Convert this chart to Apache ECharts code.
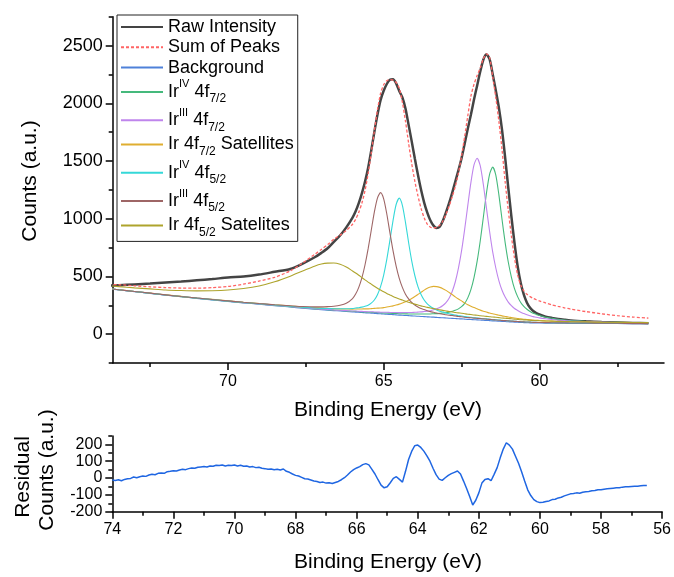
<!DOCTYPE html>
<html>
<head>
<meta charset="utf-8">
<title>Ir 4f XPS fit</title>
<script src="https://cdn.jsdelivr.net/npm/echarts@6/dist/echarts.min.js"></script>
<style>
  html, body { margin: 0; padding: 0; background: #ffffff; }
  #chart { width: 674px; height: 577px; }
</style>
</head>
<body>
<div id="chart"></div>
<script>
// ---- Ir 4f region: binding energy grid (eV) shared by the fit curves ----
const energy = [74.0, 73.5, 73.0, 72.5, 72.0, 71.5, 71.0, 70.5, 70.0, 69.5, 69.0, 68.5, 68.0, 67.6,
  67.2, 67.0, 66.8, 66.6, 66.4, 66.2,
  66.0, 65.9, 65.8, 65.7, 65.6, 65.5, 65.4, 65.3, 65.2, 65.1,
  65.0, 64.9, 64.8, 64.7, 64.6, 64.5, 64.4, 64.3, 64.2, 64.1,
  64.0, 63.9, 63.8, 63.7, 63.6, 63.5, 63.4, 63.3, 63.2, 63.1,
  63.0, 62.9, 62.8, 62.7, 62.6, 62.5, 62.4, 62.3, 62.2, 62.1,
  62.0, 61.9, 61.8, 61.7, 61.6, 61.5, 61.4, 61.3, 61.2, 61.1,
  61.0, 60.9, 60.8, 60.7, 60.6, 60.5, 60.4, 60.3, 60.2, 60.1, 60.0,
  59.8, 59.6, 59.4, 59.2, 59.0, 58.5, 58.0, 57.5, 57.0, 56.5];

const rawIntensity = [417, 424, 431, 438, 447, 455, 466, 477, 491, 499, 516, 540, 564, 611,
  668, 704, 744, 800, 855, 925,
  1010, 1065, 1135, 1220, 1320, 1440, 1590, 1750, 1900, 2027,
  2108, 2167, 2203, 2208, 2172, 2106, 2050, 1955, 1813, 1670,
  1521, 1380, 1250, 1140, 1052, 984, 940, 919, 930, 982,
  1054, 1134, 1224, 1322, 1419, 1524, 1650, 1780, 1900, 2033,
  2152, 2275, 2377, 2424, 2382, 2252, 2110, 1960, 1770, 1530,
  1270, 1020, 790, 590, 443, 342, 272, 228, 200, 183, 170,
  152, 141, 132, 125, 119, 111, 105, 101, 97, 95];

const sumOfPeaks = [429, 428, 419, 410, 403, 399, 398, 403, 413, 433, 460, 492, 548, 617,
  694, 734, 776, 822, 858, 898,
  952, 995, 1055, 1135, 1242, 1388, 1566, 1760, 1942, 2085,
  2160, 2195, 2205, 2200, 2180, 2130, 2010, 1845, 1655, 1478,
  1325, 1198, 1090, 1008, 952, 926, 920, 925, 944, 980,
  1038, 1108, 1190, 1280, 1395, 1542, 1712, 1890, 2060, 2165,
  2240, 2305, 2385, 2428, 2398, 2230, 2048, 1840, 1598, 1320,
  1074, 850, 660, 515, 425, 375, 345, 325, 310, 298, 288,
  270, 254, 240, 228, 217, 195, 176, 160, 148, 139];

const background = [398, 383, 368, 353, 338, 324, 310, 297, 284, 271, 259, 247, 235, 225,
  216, 212, 208, 204, 200, 196,
  192, 191, 189, 187, 185, 183, 182, 180, 178, 176,
  174, 173, 171, 169, 167, 165, 164, 162, 160, 158,
  157, 155, 153, 152, 150, 148, 147, 145, 143, 142,
  140, 138, 137, 135, 133, 132, 130, 128, 127, 125,
  124, 122, 120, 119, 117, 115, 114, 112, 110, 109,
  107, 106, 104, 103, 101, 100, 99, 98, 97, 97, 96,
  95, 95, 94, 94, 93, 93, 92, 92, 91, 91];

const irIV_7_2 = [399, 384, 369, 354, 339, 325, 311, 298, 286, 273, 261, 249, 238, 228,
  219, 216, 212, 208, 205, 201,
  198, 197, 195, 193, 192, 190, 189, 188, 186, 185,
  183, 183, 181, 180, 179, 177, 177, 176, 175, 174,
  174, 174, 174, 174, 175, 175, 177, 178, 180, 183,
  186, 191, 198, 206, 219, 238, 267, 314, 385, 490,
  630, 807, 1013, 1222, 1385, 1447, 1378, 1204, 993, 793,
  625, 495, 394, 325, 274, 240, 216, 196, 181, 171, 161,
  146, 137, 128, 123, 117, 110, 105, 102, 99, 97];

const irIII_7_2 = [399, 384, 369, 354, 339, 326, 312, 299, 286, 273, 262, 250, 239, 229,
  221, 217, 214, 210, 207, 204,
  200, 200, 198, 197, 195, 194, 194, 192, 191, 190,
  189, 189, 188, 187, 187, 186, 187, 187, 187, 187,
  189, 191, 193, 196, 199, 203, 211, 219, 230, 248,
  273, 311, 370, 454, 572, 721, 908, 1113, 1313, 1466,
  1524, 1459, 1296, 1092, 891, 712, 573, 462, 380, 321,
  278, 247, 222, 205, 189, 178, 168, 160, 152, 147, 141,
  133, 127, 121, 118, 114, 108, 104, 101, 99, 97];

const ir_7_2_sat = [400, 385, 370, 355, 341, 327, 313, 301, 288, 276, 265, 254, 244, 235,
  229, 226, 223, 221, 219, 218,
  217, 218, 218, 218, 219, 219, 221, 223, 225, 227,
  230, 235, 240, 245, 252, 260, 270, 281, 294, 309,
  326, 344, 362, 381, 397, 408, 414, 412, 405, 394,
  379, 361, 343, 323, 305, 288, 271, 255, 242, 230,
  219, 208, 199, 191, 183, 176, 170, 164, 158, 153,
  148, 144, 140, 136, 132, 129, 127, 124, 122, 120, 118,
  115, 113, 110, 109, 107, 104, 101, 100, 98, 97];

const irIV_5_2 = [399, 384, 369, 354, 339, 326, 312, 299, 286, 274, 263, 252, 241, 233,
  226, 223, 222, 220, 220, 220,
  222, 226, 229, 234, 241, 251, 269, 296, 342, 411,
  512, 648, 812, 984, 1123, 1178, 1116, 968, 794, 635,
  508, 411, 344, 296, 263, 240, 224, 210, 199, 191,
  183, 176, 171, 165, 160, 157, 152, 149, 146, 142,
  140, 137, 134, 132, 129, 126, 125, 122, 119, 118,
  115, 114, 111, 110, 108, 106, 105, 104, 103, 102, 101,
  100, 99, 98, 98, 96, 96, 94, 94, 93, 93];

const irIII_5_2 = [399, 384, 370, 355, 340, 326, 313, 300, 288, 276, 265, 255, 246, 239,
  236, 236, 238, 242, 250, 267,
  308, 347, 405, 487, 599, 738, 898, 1057, 1179, 1226,
  1172, 1041, 879, 723, 589, 483, 405, 346, 305, 274,
  253, 236, 222, 213, 203, 195, 189, 183, 177, 173,
  168, 164, 161, 157, 153, 151, 147, 144, 142, 139,
  137, 135, 132, 130, 128, 125, 123, 121, 118, 117,
  115, 113, 111, 110, 107, 106, 105, 104, 102, 102, 101,
  100, 99, 98, 98, 97, 96, 95, 94, 93, 93];

const ir_5_2_sat = [424, 412, 401, 392, 383, 378, 375, 376, 382, 395, 417, 453, 502, 548,
  591, 607, 615, 616, 605, 581,
  547, 529, 510, 490, 470, 451, 433, 415, 398, 382,
  367, 353, 340, 327, 315, 304, 295, 285, 276, 267,
  260, 252, 245, 239, 232, 226, 221, 216, 210, 206,
  201, 196, 193, 188, 184, 181, 177, 173, 170, 166,
  164, 160, 157, 154, 151, 148, 146, 143, 140, 138,
  135, 133, 130, 128, 125, 124, 122, 120, 118, 118, 116,
  114, 113, 111, 110, 108, 107, 104, 103, 101, 100];

// ---- Residual (raw minus fit) on a 0.1 eV grid ----
const residualEnergy = [74.0, 73.9, 73.8, 73.7, 73.6, 73.5, 73.4, 73.3, 73.2, 73.1,
  73.0, 72.9, 72.8, 72.7, 72.6, 72.5, 72.4, 72.3, 72.2, 72.1,
  72.0, 71.9, 71.8, 71.7, 71.6, 71.5, 71.4, 71.3, 71.2, 71.1,
  71.0, 70.9, 70.8, 70.7, 70.6, 70.5, 70.4, 70.3, 70.2, 70.1,
  70.0, 69.9, 69.8, 69.7, 69.6, 69.5, 69.4, 69.3, 69.2, 69.1,
  69.0, 68.9, 68.8, 68.7, 68.6, 68.5, 68.4, 68.3, 68.2, 68.1,
  68.0, 67.9, 67.8, 67.7, 67.6, 67.5, 67.4, 67.3, 67.2, 67.1,
  67.0, 66.9, 66.8, 66.7, 66.6, 66.5, 66.4, 66.3, 66.2, 66.1,
  66.0, 65.9, 65.8, 65.7, 65.6, 65.5, 65.4, 65.3, 65.2, 65.1,
  65.0, 64.9, 64.8, 64.7, 64.6, 64.5, 64.4, 64.3, 64.2, 64.1,
  64.0, 63.9, 63.8, 63.7, 63.6, 63.5, 63.4, 63.3, 63.2, 63.1,
  63.0, 62.9, 62.8, 62.7, 62.6, 62.5, 62.4, 62.3, 62.2, 62.1,
  62.0, 61.9, 61.8, 61.7, 61.6, 61.5, 61.4, 61.3, 61.2, 61.1,
  61.0, 60.9, 60.8, 60.7, 60.6, 60.5, 60.4, 60.3, 60.2, 60.1,
  60.0, 59.9, 59.8, 59.7, 59.6, 59.5, 59.4, 59.3, 59.2, 59.1,
  59.0, 58.9, 58.8, 58.7, 58.6, 58.5, 58.4, 58.3, 58.2, 58.1,
  58.0, 57.9, 57.8, 57.7, 57.6, 57.5, 57.4, 57.3, 57.2, 57.1,
  57.0, 56.9, 56.8, 56.7, 56.6, 56.5];

const residualCounts = [-12, -14, -10, -16, -8, -4, -2, 6, 2, 8,
  12, 10, 18, 22, 20, 28, 30, 28, 38, 40,
  44, 42, 48, 52, 50, 56, 60, 58, 64, 66,
  68, 66, 72, 70, 76, 74, 78, 72, 76, 74,
  78, 72, 76, 70, 72, 66, 68, 62, 64, 58,
  56, 52, 54, 50, 52, 48, 54, 40, 34, 24,
  16, 12, 4, -4, -6, -12, -18, -20, -26, -24,
  -30, -28, -32, -26, -20, -10, 2, 18, 36, 50,
  60, 68, 80, 86, 78, 52, 24, -10, -42, -58,
  -52, -28, -2, 8, -8, -24, 40, 110, 158, 192,
  196, 182, 160, 132, 100, 58, 20, -6, -14, 2,
  16, 26, 34, 42, 24, -18, -62, -110, -160, -132,
  -88, -30, -8, -4, -16, 22, 62, 120, 172, 210,
  196, 172, 130, 88, 38, -18, -70, -104, -128, -140,
  -146, -144, -140, -136, -128, -126, -118, -114, -106, -100,
  -94, -92, -88, -90, -84, -82, -80, -76, -74, -70,
  -70, -66, -64, -62, -60, -58, -58, -54, -52, -52,
  -50, -48, -48, -46, -44, -44];

// ---- Tick positions ----
const topEnergyTicks = [60, 65, 70];
const topEnergyMinorTicks = [57.5, 62.5, 67.5, 72.5];
const countTicks = [0, 500, 1000, 1500, 2000, 2500];
const countMinorTicks = [-250, 250, 750, 1250, 1750, 2250, 2750];
const residualEnergyTicks = [56, 58, 60, 62, 64, 66, 68, 70, 72, 74];
const residualEnergyMinorTicks = [57, 59, 61, 63, 65, 67, 69, 71, 73];
const residualTicks = [-200, -100, 0, 100, 200];
const residualMinorTicks = [-150, -50, 50, 150, 250];

// ---- Styling ----
const FONT = '"Liberation Sans", Arial, Helvetica, sans-serif';
const AXIS_COLOR = '#000000';

const curveStyles = [
  { name: 'Raw Intensity',       values: rawIntensity, color: '#444444', width: 2.5 },
  { name: 'Sum of Peaks',        values: sumOfPeaks,   color: '#ff6464', width: 1.3, dash: [3, 2] },
  { name: 'Background',          values: background,   color: '#4f81d9', width: 1.1 },
  { name: 'IrIV 4f7/2',          values: irIV_7_2,     color: '#45b97c', width: 1.1 },
  { name: 'IrIII 4f7/2',         values: irIII_7_2,    color: '#bf85ec', width: 1.1 },
  { name: 'Ir 4f7/2 Satellites', values: ir_7_2_sat,   color: '#dfae30', width: 1.1 },
  { name: 'IrIV 4f5/2',          values: irIV_5_2,     color: '#35d8d8', width: 1.1 },
  { name: 'IrIII 4f5/2',         values: irIII_5_2,    color: '#9e6666', width: 1.1 },
  { name: 'Ir 4f5/2 Satelites',  values: ir_5_2_sat,   color: '#aea42c', width: 1.1 }
];

const legendText = {
  'Raw Intensity': '{p|Raw Intensity}',
  'Sum of Peaks': '{p|Sum of Peaks}',
  'Background': '{p|Background}',
  'IrIV 4f7/2': '{m|Ir}{sup|IV}{m| 4f}{sub|7/2}',
  'IrIII 4f7/2': '{m|Ir}{sup|III}{m| 4f}{sub|7/2}',
  'Ir 4f7/2 Satellites': '{m|Ir 4f}{sub|7/2}{m| Satellites}',
  'IrIV 4f5/2': '{m|Ir}{sup|IV}{m| 4f}{sub|5/2}',
  'IrIII 4f5/2': '{m|Ir}{sup|III}{m| 4f}{sub|5/2}',
  'Ir 4f5/2 Satelites': '{m|Ir 4f}{sub|5/2}{m| Satelites}'
};

function toPairs(xs, ys) {
  return xs.map(function (x, i) { return [x, ys[i]]; });
}

function plainNumber(v) { return String(v); }

function axisBase(extra) {
  return Object.assign({
    type: 'value',
    splitLine: { show: false },
    axisLine: { show: true, onZero: false, lineStyle: { color: AXIS_COLOR, width: 1.5 } }
  }, extra);
}

function majorAxis(gridIndex, min, max, inverse, ticks, labelSize, margin, position) {
  return axisBase({
    gridIndex: gridIndex, min: min, max: max, inverse: inverse, position: position,
    axisTick: { show: true, inside: false, length: 7, customValues: ticks,
      lineStyle: { color: AXIS_COLOR, width: 1.5 } },
    axisLabel: { show: true, customValues: ticks, color: '#000', fontSize: labelSize,
      fontFamily: FONT, margin: margin, formatter: plainNumber }
  });
}

function minorAxis(gridIndex, min, max, inverse, ticks, position) {
  return axisBase({
    gridIndex: gridIndex, min: min, max: max, inverse: inverse, position: position,
    axisLine: { show: false, onZero: false },
    axisTick: { show: true, inside: false, length: 4, customValues: ticks,
      lineStyle: { color: AXIS_COLOR, width: 1.5 } },
    axisLabel: { show: false }
  });
}

const series = curveStyles.map(function (c) {
  return {
    name: c.name,
    type: 'line',
    xAxisIndex: 0,
    yAxisIndex: 0,
    data: toPairs(energy, c.values),
    symbol: 'none',
    smooth: 0.25,
    clip: true,
    lineStyle: { color: c.color, width: c.width, type: c.dash || 'solid' },
    itemStyle: { color: c.color },
    emphasis: { disabled: true }
  };
});

series.push({
  name: 'Residual',
  type: 'line',
  xAxisIndex: 2,
  yAxisIndex: 2,
  data: toPairs(residualEnergy, residualCounts),
  symbol: 'none',
  clip: true,
  lineStyle: { color: '#1f66e2', width: 1.5 },
  itemStyle: { color: '#1f66e2' },
  emphasis: { disabled: true }
});

const titleFont = '21px ' + FONT;

const option = {
  animation: false,
  backgroundColor: '#ffffff',
  grid: [
    { left: 112.7, top: 16.7, right: 10, height: 346.3, containLabel: false },
    { left: 112.3, top: 436, right: 11.3, height: 75.7, containLabel: false }
  ],
  xAxis: [
    majorAxis(0, 56, 73.7, true, topEnergyTicks, 16, 11, 'bottom'),
    minorAxis(0, 56, 73.7, true, topEnergyMinorTicks, 'bottom'),
    majorAxis(1, 56, 74, true, residualEnergyTicks, 16, 10, 'bottom'),
    minorAxis(1, 56, 74, true, residualEnergyMinorTicks, 'bottom')
  ],
  yAxis: [
    majorAxis(0, -250, 2750, false, countTicks, 18, 10, 'left'),
    minorAxis(0, -250, 2750, false, countMinorTicks, 'left'),
    majorAxis(1, -200, 250, false, residualTicks, 16, 10, 'left'),
    minorAxis(1, -200, 250, false, residualMinorTicks, 'left')
  ],
  legend: {
    data: curveStyles.map(function (c) { return c.name; }),
    orient: 'vertical',
    left: 117,
    top: 15,
    padding: [3, 4, 3, 3],
    itemGap: 2.3,
    itemWidth: 42,
    itemHeight: 14,
    borderColor: '#222222',
    borderWidth: 1,
    selectedMode: false,
    // line samples only, no marker dot
    itemStyle: { opacity: 0 },
    formatter: function (name) { return legendText[name] || name; },
    textStyle: {
      color: '#000',
      fontFamily: FONT,
      fontSize: 18,
      rich: {
        p: { fontSize: 18, lineHeight: 20, fontFamily: FONT, color: '#000' },
        m: { fontSize: 18, lineHeight: 26, fontFamily: FONT, color: '#000', verticalAlign: 'middle' },
        sup: { fontSize: 11, lineHeight: 17, fontFamily: FONT, color: '#000', verticalAlign: 'top' },
        sub: { fontSize: 12, lineHeight: 12, fontFamily: FONT, color: '#000', verticalAlign: 'bottom' }
      }
    }
  },
  graphic: [
    { type: 'text', x: 30, y: 181, rotation: Math.PI / 2,
      style: { text: 'Counts (a.u.)', font: titleFont, fill: '#000', align: 'center', verticalAlign: 'middle' } },
    { type: 'text', x: 388, y: 410,
      style: { text: 'Binding Energy (eV)', font: titleFont, fill: '#000', align: 'center', verticalAlign: 'middle' } },
    { type: 'text', x: 23, y: 477, rotation: Math.PI / 2,
      style: { text: 'Residual', font: titleFont, fill: '#000', align: 'center', verticalAlign: 'middle' } },
    { type: 'text', x: 47, y: 470, rotation: Math.PI / 2,
      style: { text: 'Counts (a.u.)', font: titleFont, fill: '#000', align: 'center', verticalAlign: 'middle' } },
    { type: 'text', x: 388, y: 562,
      style: { text: 'Binding Energy (eV)', font: titleFont, fill: '#000', align: 'center', verticalAlign: 'middle' } }
  ],
  series: series
};

const chart = echarts.init(document.getElementById('chart'), null, { renderer: 'canvas' });
chart.setOption(option);
</script>
</body>
</html>
